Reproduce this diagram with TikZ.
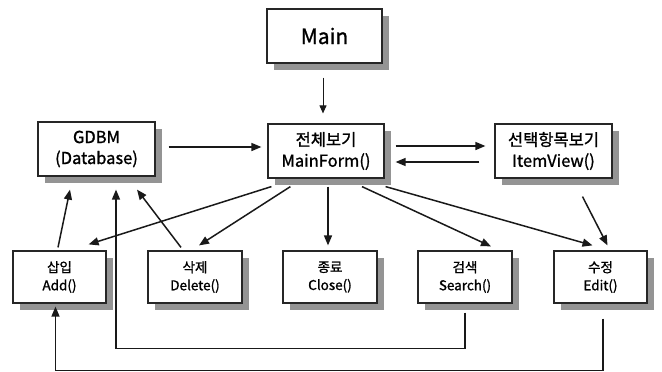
\documentclass[tikz,border=0pt]{standalone}
\usepackage{fontspec}
\setmainfont{Noto Sans CJK KR}[RawFeature={embolden=1.2}]
\usetikzlibrary{arrows.meta,calc,shadows}

\tikzset{
  box/.style={draw=black!85, line width=1.2pt, fill=white, inner sep=0pt, align=center,
    drop shadow={shadow xshift=7pt, shadow yshift=-7pt, opacity=1, fill=black!42}},
  topbox/.style={box, minimum width=115pt, minimum height=54pt, font=\fontsize{21}{25}\selectfont},
  midbox/.style={box, minimum width=117pt, minimum height=54pt, font=\fontsize{16.5}{21}\selectfont},
  lowbox/.style={box, minimum width=94pt, minimum height=52pt, font=\fontsize{13.5}{18}\selectfont},
  arr/.style={-{Triangle[length=10pt,width=8pt]}, line width=1.5pt, black!90},
  thinarr/.style={-{Triangle[length=8pt,width=7pt]}, line width=1pt, black!90},
  link/.style={line width=1.5pt, black!90}
}

\begin{document}
\begin{tikzpicture}[x=1pt, y=-1pt]
  \useasboundingbox (0,0) rectangle (662,372);

  % top and middle rows
  \node[topbox] (main)     at (324.5,36)  {Main};
  \node[midbox] (gdbm)     at (96.5,149)  {GDBM\\(Database)};
  \node[midbox, minimum width=116pt] (mainform) at (326,151) {전체보기\\MainForm()};
  \node[midbox] (itemview) at (553.5,151) {선택항목보기\\ItemView()};

  % bottom row: operations
  \node[lowbox, minimum width=93pt] (add) at (59.5,277) {삽입\\Add()};
  \node[lowbox] (delete) at (195,277)   {삭제\\Delete()};
  \node[lowbox] (close)  at (330,277)   {종료\\Close()};
  \node[lowbox] (search) at (465,277)   {검색\\Search()};
  \node[lowbox, minimum width=93pt] (edit) at (600.5,277) {수정\\Edit()};

  % Main starts the overview form
  \draw[thinarr] ($(main.south)+(-1.5,14)$) -- ($(main.south |- mainform.north)+(-1.5,-10)$);

  % database and item view links
  \draw[arr] ($(gdbm.east)+(13,-2)$) -- ($(mainform.west)+(-6,-4)$);
  \draw[arr] ($(mainform.east)+(11,-5)$) -- ($(itemview.west)+(-9,-5)$);
  \draw[arr] ($(itemview.west)+(-15,11)$) -- ($(mainform.east)+(11,11)$);

  % overview form to the operations
  \draw[arr] ($(mainform.south west)+(4,8)$)  -- ($(add.north east)+(-18,-6)$);
  \draw[arr] ($(mainform.south west)+(23,8)$) -- ($(delete.north)+(4,-5)$);
  \draw[arr] ($(close.north |- mainform.south)+(-2,8)$) -- ($(close.north)+(-2,-5)$);
  \draw[arr] ($(mainform.south)+(36,8)$) -- ($(search.north)+(26,-4)$);
  \draw[arr] ($(mainform.south east)+(1,8)$) -- ($(edit.north)+(-8,-5)$);
  \draw[arr] ($(itemview.south)+(29,18)$) -- ($(edit.north)+(7,-5)$);

  % operations writing back to the database
  \draw[arr] ($(add.north)+(-1.5,-3)$) -- ($(gdbm.south)+(-26.5,13)$);
  \draw[arr] ($(delete.north)+(-14,-3)$) -- ($(gdbm.south)+(40.5,13)$);
  \draw[arr] ($(search.south)+(0,9)$) -- ($(search.south)+(0,45)$) -| ($(gdbm.south)+(19.5,13)$);
  \draw[arr] ($(edit.south)+(2.5,15)$) -- ($(edit.south)+(2.5,67)$) -| ($(add.south)+(-4,3)$);
\end{tikzpicture}
\end{document}
